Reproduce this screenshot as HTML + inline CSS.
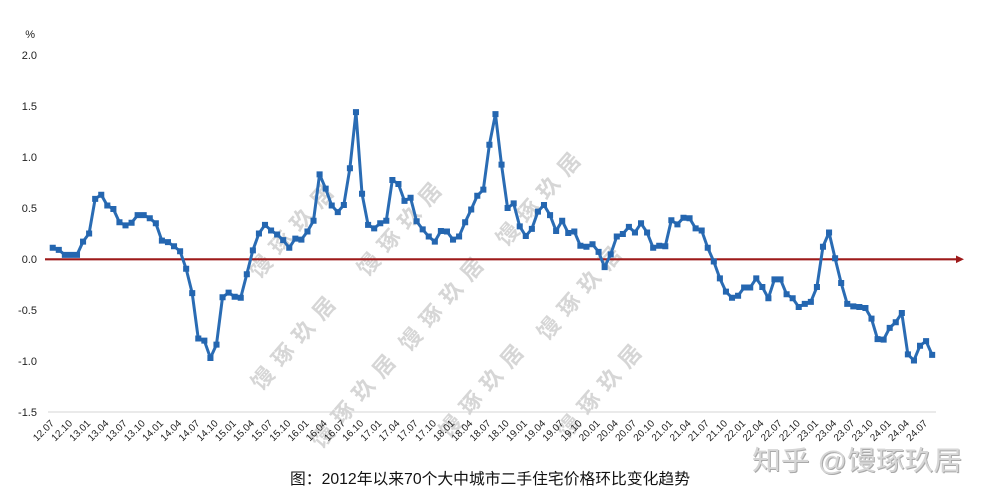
<!DOCTYPE html>
<html><head><meta charset="utf-8"><style>
html,body{margin:0;padding:0;background:#fff;}
svg{display:block;}
</style></head><body>
<svg width="991" height="500" viewBox="0 0 991 500" xmlns="http://www.w3.org/2000/svg" font-family="'Liberation Sans','Noto Sans CJK SC',sans-serif">
<rect width="991" height="500" fill="#fff"/>
<!-- watermarks -->
<g fill="#d6d6d6" font-size="22" font-weight="bold" letter-spacing="9" text-anchor="middle" font-family="'Liberation Sans','Noto Sans CJK SC',sans-serif">
<text transform="translate(300,233) rotate(-49)">馒琢玖居</text>
<text transform="translate(408,231) rotate(-49)">馒琢玖居</text>
<text transform="translate(547,201) rotate(-49)">馒琢玖居</text>
<text transform="translate(302,345) rotate(-49)">馒琢玖居</text>
<text transform="translate(450,306) rotate(-49)">馒琢玖居</text>
<text transform="translate(588,295) rotate(-49)">馒琢玖居</text>
<text transform="translate(362,403) rotate(-49)">馒琢玖居</text>
<text transform="translate(490,393) rotate(-49)">馒琢玖居</text>
<text transform="translate(608,393) rotate(-49)">馒琢玖居</text>
</g>
<!-- axis baseline -->
<line x1="48" y1="412" x2="936" y2="412" stroke="#d4d4d4" stroke-width="1"/>
<!-- y labels -->
<g font-size="11" fill="#222" text-anchor="end">
<text x="35" y="38">%</text>
<text x="37" y="59">2.0</text>
<text x="37" y="110">1.5</text>
<text x="37" y="161">1.0</text>
<text x="37" y="212">0.5</text>
<text x="37" y="263">0.0</text>
<text x="37" y="314">-0.5</text>
<text x="37" y="365">-1.0</text>
<text x="37" y="416">-1.5</text>
</g>
<!-- zero line with arrow -->
<line x1="45" y1="259.3" x2="957" y2="259.3" stroke="#9e1a1a" stroke-width="2.2"/>
<polygon points="956,255.5 964,259.3 956,263.1" fill="#9e1a1a"/>
<!-- data -->
<g transform="translate(52.7,259) scale(6.065,-102)">
<polyline fill="none" stroke="#2a6cb4" stroke-width="3" stroke-linejoin="round" vector-effect="non-scaling-stroke" points="0,0.11 1,0.09 2,0.04 3,0.04 4,0.04 5,0.17 6,0.25 7,0.59 8,0.63 9,0.525 10,0.49 11,0.36 12,0.33 13,0.355 14,0.43 15,0.43 16,0.40 17,0.35 18,0.18 19,0.165 20,0.125 21,0.076 22,-0.095 23,-0.335 24,-0.78 25,-0.80 26,-0.97 27,-0.84 28,-0.375 29,-0.33 30,-0.37 31,-0.38 32,-0.15 33,0.085 34,0.25 35,0.335 36,0.28 37,0.24 38,0.185 39,0.11 40,0.20 41,0.19 42,0.27 43,0.375 44,0.83 45,0.69 46,0.525 47,0.46 48,0.53 49,0.89 50,1.44 51,0.64 52,0.335 53,0.30 54,0.35 55,0.375 56,0.775 57,0.735 58,0.57 59,0.60 60,0.37 61,0.29 62,0.22 63,0.17 64,0.275 65,0.27 66,0.19 67,0.22 68,0.36 69,0.485 70,0.62 71,0.68 72,1.12 73,1.42 74,0.925 75,0.50 76,0.545 77,0.32 78,0.225 79,0.295 80,0.465 81,0.53 82,0.43 83,0.275 84,0.375 85,0.255 86,0.27 87,0.13 88,0.12 89,0.145 90,0.07 91,-0.08 92,0.045 93,0.22 94,0.245 95,0.315 96,0.26 97,0.35 98,0.26 99,0.11 100,0.13 101,0.125 102,0.38 103,0.34 104,0.405 105,0.40 106,0.30 107,0.28 108,0.11 109,-0.025 110,-0.19 111,-0.32 112,-0.38 113,-0.36 114,-0.28 115,-0.28 116,-0.19 117,-0.275 118,-0.385 119,-0.20 120,-0.20 121,-0.345 122,-0.385 123,-0.47 124,-0.44 125,-0.42 126,-0.275 127,0.12 128,0.26 129,0.007 130,-0.235 131,-0.44 132,-0.465 133,-0.47 134,-0.48 135,-0.585 136,-0.785 137,-0.79 138,-0.675 139,-0.62 140,-0.53 141,-0.935 142,-0.995 143,-0.85 144,-0.805 145,-0.94"/>
<path fill="none" stroke="#2466b0" stroke-width="6" stroke-linecap="square" vector-effect="non-scaling-stroke" d="M0,0.11h.01M1,0.09h.01M2,0.04h.01M3,0.04h.01M4,0.04h.01M5,0.17h.01M6,0.25h.01M7,0.59h.01M8,0.63h.01M9,0.525h.01M10,0.49h.01M11,0.36h.01M12,0.33h.01M13,0.355h.01M14,0.43h.01M15,0.43h.01M16,0.40h.01M17,0.35h.01M18,0.18h.01M19,0.165h.01M20,0.125h.01M21,0.076h.01M22,-0.095h.01M23,-0.335h.01M24,-0.78h.01M25,-0.80h.01M26,-0.97h.01M27,-0.84h.01M28,-0.375h.01M29,-0.33h.01M30,-0.37h.01M31,-0.38h.01M32,-0.15h.01M33,0.085h.01M34,0.25h.01M35,0.335h.01M36,0.28h.01M37,0.24h.01M38,0.185h.01M39,0.11h.01M40,0.20h.01M41,0.19h.01M42,0.27h.01M43,0.375h.01M44,0.83h.01M45,0.69h.01M46,0.525h.01M47,0.46h.01M48,0.53h.01M49,0.89h.01M50,1.44h.01M51,0.64h.01M52,0.335h.01M53,0.30h.01M54,0.35h.01M55,0.375h.01M56,0.775h.01M57,0.735h.01M58,0.57h.01M59,0.60h.01M60,0.37h.01M61,0.29h.01M62,0.22h.01M63,0.17h.01M64,0.275h.01M65,0.27h.01M66,0.19h.01M67,0.22h.01M68,0.36h.01M69,0.485h.01M70,0.62h.01M71,0.68h.01M72,1.12h.01M73,1.42h.01M74,0.925h.01M75,0.50h.01M76,0.545h.01M77,0.32h.01M78,0.225h.01M79,0.295h.01M80,0.465h.01M81,0.53h.01M82,0.43h.01M83,0.275h.01M84,0.375h.01M85,0.255h.01M86,0.27h.01M87,0.13h.01M88,0.12h.01M89,0.145h.01M90,0.07h.01M91,-0.08h.01M92,0.045h.01M93,0.22h.01M94,0.245h.01M95,0.315h.01M96,0.26h.01M97,0.35h.01M98,0.26h.01M99,0.11h.01M100,0.13h.01M101,0.125h.01M102,0.38h.01M103,0.34h.01M104,0.405h.01M105,0.40h.01M106,0.30h.01M107,0.28h.01M108,0.11h.01M109,-0.025h.01M110,-0.19h.01M111,-0.32h.01M112,-0.38h.01M113,-0.36h.01M114,-0.28h.01M115,-0.28h.01M116,-0.19h.01M117,-0.275h.01M118,-0.385h.01M119,-0.20h.01M120,-0.20h.01M121,-0.345h.01M122,-0.385h.01M123,-0.47h.01M124,-0.44h.01M125,-0.42h.01M126,-0.275h.01M127,0.12h.01M128,0.26h.01M129,0.007h.01M130,-0.235h.01M131,-0.44h.01M132,-0.465h.01M133,-0.47h.01M134,-0.48h.01M135,-0.585h.01M136,-0.785h.01M137,-0.79h.01M138,-0.675h.01M139,-0.62h.01M140,-0.53h.01M141,-0.935h.01M142,-0.995h.01M143,-0.85h.01M144,-0.805h.01M145,-0.94h.01"/>
</g>
<!-- x labels -->
<g font-size="10" fill="#222" text-anchor="end">
<text transform="translate(54.7,424) rotate(-45)">12.07</text>
<text transform="translate(72.9,424) rotate(-45)">12.10</text>
<text transform="translate(91.1,424) rotate(-45)">13.01</text>
<text transform="translate(109.3,424) rotate(-45)">13.04</text>
<text transform="translate(127.5,424) rotate(-45)">13.07</text>
<text transform="translate(145.7,424) rotate(-45)">13.10</text>
<text transform="translate(163.9,424) rotate(-45)">14.01</text>
<text transform="translate(182.1,424) rotate(-45)">14.04</text>
<text transform="translate(200.3,424) rotate(-45)">14.07</text>
<text transform="translate(218.5,424) rotate(-45)">14.10</text>
<text transform="translate(236.7,424) rotate(-45)">15.01</text>
<text transform="translate(254.8,424) rotate(-45)">15.04</text>
<text transform="translate(273.0,424) rotate(-45)">15.07</text>
<text transform="translate(291.2,424) rotate(-45)">15.10</text>
<text transform="translate(309.4,424) rotate(-45)">16.01</text>
<text transform="translate(327.6,424) rotate(-45)">16.04</text>
<text transform="translate(345.8,424) rotate(-45)">16.07</text>
<text transform="translate(364.0,424) rotate(-45)">16.10</text>
<text transform="translate(382.2,424) rotate(-45)">17.01</text>
<text transform="translate(400.4,424) rotate(-45)">17.04</text>
<text transform="translate(418.6,424) rotate(-45)">17.07</text>
<text transform="translate(436.8,424) rotate(-45)">17.10</text>
<text transform="translate(455.0,424) rotate(-45)">18.01</text>
<text transform="translate(473.2,424) rotate(-45)">18.04</text>
<text transform="translate(491.4,424) rotate(-45)">18.07</text>
<text transform="translate(509.6,424) rotate(-45)">18.10</text>
<text transform="translate(527.8,424) rotate(-45)">19.01</text>
<text transform="translate(546.0,424) rotate(-45)">19.04</text>
<text transform="translate(564.2,424) rotate(-45)">19.07</text>
<text transform="translate(582.4,424) rotate(-45)">19.10</text>
<text transform="translate(600.6,424) rotate(-45)">20.01</text>
<text transform="translate(618.7,424) rotate(-45)">20.04</text>
<text transform="translate(636.9,424) rotate(-45)">20.07</text>
<text transform="translate(655.1,424) rotate(-45)">20.10</text>
<text transform="translate(673.3,424) rotate(-45)">21.01</text>
<text transform="translate(691.5,424) rotate(-45)">21.04</text>
<text transform="translate(709.7,424) rotate(-45)">21.07</text>
<text transform="translate(727.9,424) rotate(-45)">21.10</text>
<text transform="translate(746.1,424) rotate(-45)">22.01</text>
<text transform="translate(764.3,424) rotate(-45)">22.04</text>
<text transform="translate(782.5,424) rotate(-45)">22.07</text>
<text transform="translate(800.7,424) rotate(-45)">22.10</text>
<text transform="translate(818.9,424) rotate(-45)">23.01</text>
<text transform="translate(837.1,424) rotate(-45)">23.04</text>
<text transform="translate(855.3,424) rotate(-45)">23.07</text>
<text transform="translate(873.5,424) rotate(-45)">23.10</text>
<text transform="translate(891.7,424) rotate(-45)">24.01</text>
<text transform="translate(909.8,424) rotate(-45)">24.04</text>
<text transform="translate(928.0,424) rotate(-45)">24.07</text>
</g>
<!-- zhihu watermark -->
<text x="753" y="471" font-size="27" fill="#a9a9a9" textLength="210" lengthAdjust="spacingAndGlyphs">知乎 @馒琢玖居</text>
<text x="752" y="470" font-size="27" fill="#d6d6d6" textLength="210" lengthAdjust="spacingAndGlyphs">知乎 @馒琢玖居</text>
<!-- caption -->
<text x="290" y="484" font-size="15.5" fill="#111" textLength="400" lengthAdjust="spacingAndGlyphs">图：2012年以来70个大中城市二手住宅价格环比变化趋势</text>
</svg>
</body></html>
